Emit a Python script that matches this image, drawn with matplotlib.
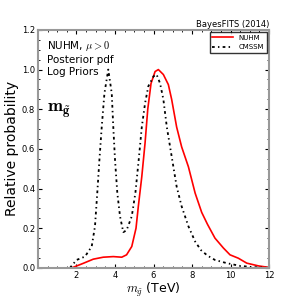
import matplotlib
matplotlib.use("Agg")
import matplotlib.pyplot as plt
from matplotlib.ticker import MultipleLocator

plt.rcParams['mathtext.fontset'] = 'cm'

# NUHM posterior (red solid)
nuhm_x = [1.75, 2.35, 2.87, 3.39, 3.91, 4.35, 4.6, 4.87, 5.09, 5.21, 5.39, 5.56, 5.7,
          5.87, 6.08, 6.25, 6.51, 6.77, 6.94, 7.2, 7.46, 7.81, 8.16, 8.5, 8.8,
          9.19, 9.63, 9.97, 10.4, 10.84, 11.45, 11.96]
nuhm_y = [0.0, 0.023, 0.044, 0.054, 0.057, 0.054, 0.066, 0.108, 0.2, 0.31, 0.46, 0.63, 0.8,
          0.93, 0.99, 1.0, 0.975, 0.924, 0.85, 0.71, 0.61, 0.51, 0.377, 0.28, 0.22,
          0.15, 0.1, 0.066, 0.049, 0.024, 0.01, 0.003]

# CMSSM posterior (black dash-dot)
cmssm_x = [1.66, 2.0, 2.44, 2.79, 2.96, 3.08, 3.19, 3.31, 3.45, 3.65, 3.83, 3.91, 4.0,
           4.12, 4.26, 4.43, 4.6, 4.87, 5.06, 5.23, 5.39, 5.56, 5.73, 6.0, 6.16,
           6.34, 6.51, 6.69, 6.86, 7.03, 7.2, 7.46, 7.81, 8.16, 8.46, 8.8, 9.19,
           9.8, 10.5, 11.18, 12.0]
cmssm_y = [0.0, 0.04, 0.057, 0.108, 0.21, 0.38, 0.545, 0.71, 0.88, 1.0, 0.88, 0.71, 0.545,
           0.377, 0.26, 0.18, 0.19, 0.26, 0.38, 0.545, 0.71, 0.83, 0.916, 0.966, 0.975,
           0.93, 0.85, 0.71, 0.61, 0.51, 0.41, 0.31, 0.21, 0.133, 0.09, 0.062, 0.04,
           0.024, 0.01, 0.004, 0.0]

fig = plt.figure(figsize=(2.99, 2.99), dpi=100)
ax = fig.add_axes([0.127, 0.104, 0.773, 0.796])

ax.plot(nuhm_x, nuhm_y, color='red', lw=1.2, label='NUHM')
ax.plot(cmssm_x, cmssm_y, color='black', lw=1.3, dashes=(1.5, 1.8, 0.8, 1.8), label='CMSSM')

ax.set_xlim(0, 12)
ax.set_ylim(0, 1.2)
ax.set_xticks([2, 4, 6, 8, 10, 12])
ax.set_yticks([0.0, 0.2, 0.4, 0.6, 0.8, 1.0, 1.2])
ax.xaxis.set_minor_locator(MultipleLocator(0.5))
ax.yaxis.set_minor_locator(MultipleLocator(0.05))
ax.tick_params(which='both', direction='in', top=True, right=True, labelsize=6, pad=2)
ax.tick_params(which='major', length=3)
ax.tick_params(which='minor', length=1.5)
for s in ax.spines.values():
    s.set_color('#999999')
    s.set_linewidth(1.5)

ax.set_xlabel(r'$m_{\tilde{g}}$ (TeV)', fontsize=9, labelpad=1)
ax.set_ylabel('Relative probability', fontsize=10, labelpad=2)
ax.set_title('BayesFITS (2014)', fontsize=6, loc='right', pad=2)

ax.text(0.04, 0.96, r'NUHM, $\mu>0$' + '\nPosterior pdf\nLog Priors',
        transform=ax.transAxes, fontsize=7.5, va='top', ha='left', linespacing=1.2)
ax.text(0.04, 0.66, r'$\mathbf{m}_{\tilde{\mathbf{g}}}$', transform=ax.transAxes,
        fontsize=13, va='center', ha='left')

ax.legend(loc='upper right', fontsize=5, handlelength=3, frameon=True,
          fancybox=False, edgecolor='black', borderaxespad=0.3)

fig.savefig('out.png', dpi=100)
